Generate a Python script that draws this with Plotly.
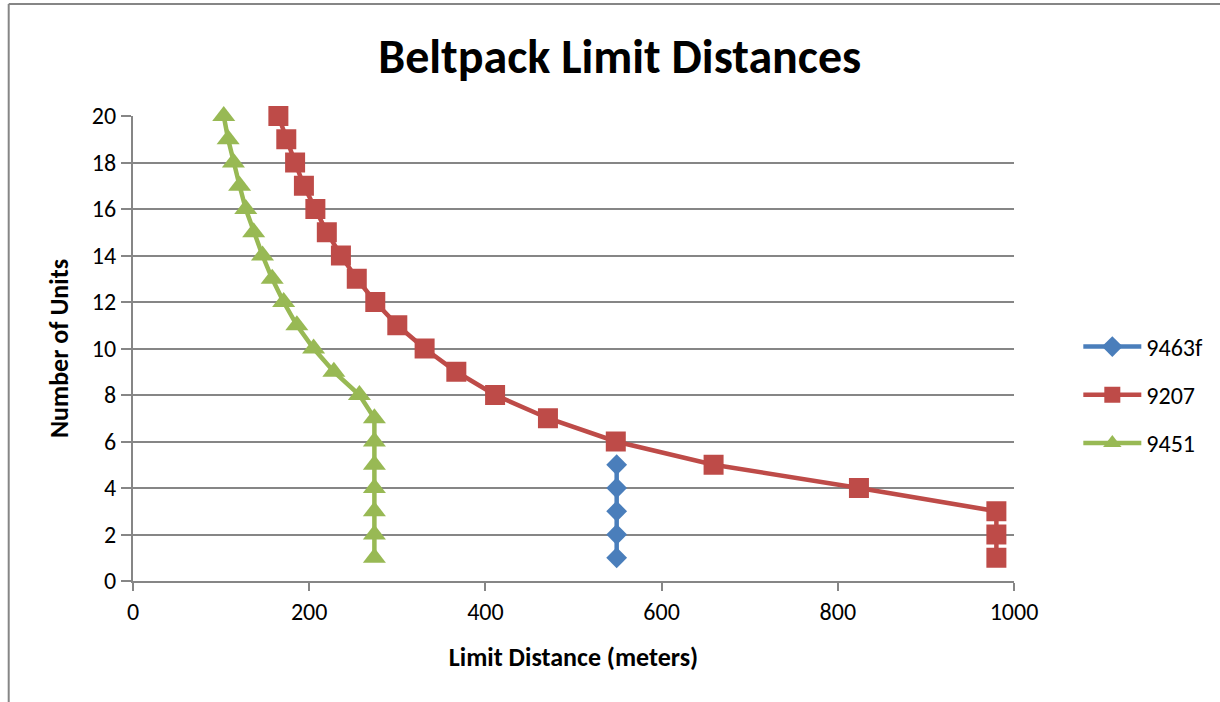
import plotly.graph_objects as go

units_9463f = [1, 2, 3, 4, 5]
dist_9463f = [549, 549, 549, 549, 549]

units_9207 = list(range(1, 21))
dist_9207 = [980, 980, 980, 824, 659, 548, 471, 411, 367, 331,
             300, 275, 254, 236, 220, 207, 194, 184, 174, 165]

units_9451 = list(range(1, 21))
dist_9451 = [274, 274, 274, 274, 274, 274, 274, 257, 228, 205,
             186, 171, 158, 147, 137, 128, 121, 114, 108, 103]

FONT = "Carlito, Lato, 'Liberation Sans', sans-serif"

fig = go.Figure()
fig.add_trace(go.Scatter(x=dist_9463f, y=units_9463f, name="9463f", mode="lines+markers",
                         line=dict(color="#4A7EBB", width=4.5),
                         marker=dict(symbol="diamond", size=16, color="#4A7EBB"),
                         legendgroup="a", cliponaxis=False))
fig.add_trace(go.Scatter(x=dist_9207, y=units_9207, name="9207", mode="lines+markers",
                         line=dict(color="#BE4B48", width=4.5),
                         marker=dict(symbol="square", size=20, color="#BE4B48"),
                         legendgroup="b", cliponaxis=False))
fig.add_trace(go.Scatter(x=dist_9451, y=units_9451, name="9451", mode="lines+markers",
                         line=dict(color="#98B954", width=4.5),
                         marker=dict(symbol="triangle-up", size=20, color="#98B954"),
                         legendgroup="c", cliponaxis=False))

fig.update_layout(
    width=1220, height=702,
    margin=dict(l=133, r=201, t=116, b=121),
    paper_bgcolor="white", plot_bgcolor="white",
    font=dict(family=FONT, size=24, color="black"),
    title=dict(text="<b>Beltpack Limit Distances</b>", x=0.508, xanchor="center",
               y=0.92, yanchor="middle", font=dict(size=48, family=FONT)),
    xaxis=dict(range=[0, 1000], dtick=200, showgrid=False, zeroline=False,
               showline=True, linecolor="#868686", linewidth=2,
               ticks="outside", ticklen=8, tickcolor="#868686", tickwidth=2,
               tickfont=dict(size=24),
               title=dict(text="<b>Limit Distance (meters)</b>", font=dict(size=26), standoff=23)),
    yaxis=dict(range=[0, 20], dtick=2, showgrid=True, gridcolor="#868686", gridwidth=2,
               zeroline=False, showline=True, linecolor="#868686", linewidth=2,
               ticks="outside", ticklen=10, tickcolor="#868686", tickwidth=2,
               tickfont=dict(size=24),
               title=dict(text="<b>Number of Units</b>", font=dict(size=26), standoff=16)),
    legend=dict(x=1.073, y=0.40, xanchor="left", yanchor="middle",
                traceorder="grouped", tracegroupgap=14,
                font=dict(size=24), itemwidth=58),
    showlegend=True,
)

# outer chart border (partially visible)
fig.add_shape(type="line", xref="paper", yref="paper",
              x0=(8 - 133) / 886, x1=(1230 - 133) / 886,
              y0=(581 - 4) / 465, y1=(581 - 4) / 465,
              line=dict(color="#868686", width=2))
fig.add_shape(type="line", xref="paper", yref="paper",
              x0=(8 - 133) / 886, x1=(8 - 133) / 886,
              y0=(581 - 4) / 465, y1=(581 - 710) / 465,
              line=dict(color="#868686", width=2))

fig.write_html("out.html", config={"displayModeBar": False},
               post_script="document.body.style.margin='0';document.body.style.overflow='hidden';")
